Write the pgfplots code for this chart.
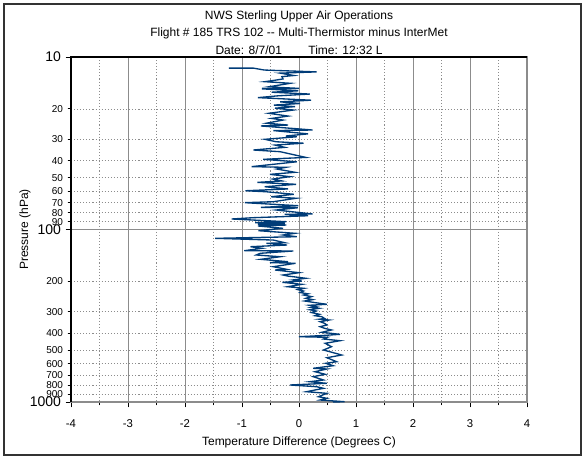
\documentclass[border=0pt]{standalone}
\usepackage{pgfplots}
\pgfplotsset{compat=1.18}
\usepackage{fontspec}
\setmainfont{Liberation Sans}
\definecolor{trace}{RGB}{0,60,120}
\definecolor{gridgray}{RGB}{140,140,140}

\begin{document}
\begin{tikzpicture}
\begin{axis}[
 scale only axis, width=342pt, height=258.75pt,
 ymode=log, y dir=reverse, ymin=10, ymax=1000,
 xmin=-4, xmax=4, clip=false,
 xtick={-4,...,4}, minor x tick num=1,
 ytick={10,100,1000}, yticklabels={10,100,1000},
 extra y ticks={20,30,40,50,60,70,80,90,200,300,400,500,600,700,800,900},
 extra y tick labels={20,30,40,50,60,70,80,90,200,300,400,500,600,700,800,900},
 extra y tick style={grid=major,
   major grid style={gridgray, dash pattern=on 0.8pt off 1.5pt, line width=0.6pt},
   major tick length=2.5pt,
   yticklabel style={font=\fontsize{7.5}{8}\selectfont}},
 tick align=outside, xtick pos=bottom, ytick pos=left,
 major tick length=4pt, minor tick length=2.5pt,
 tick style={black, line width=0.7pt},
 xmajorgrids, xminorgrids, ymajorgrids,
 major grid style={gridgray, line width=0.7pt},
 minor grid style={gridgray, dash pattern=on 0.8pt off 1.5pt, line width=0.6pt},
 axis line style={gridgray, line width=1.2pt},
 /pgf/number format/assume math mode=true,
 xticklabel style={font=\fontsize{8.5}{9}\selectfont, yshift=-6pt},
 yticklabel style={font=\fontsize{10.5}{11}\selectfont},
 xlabel={Temperature Difference (Degrees C)},
 ylabel={Pressure (hPa)},
 xlabel style={at={(axis description cs:0.5,-0.118)}, anchor=center, font=\fontsize{9}{10}\selectfont},
 ylabel style={at={(axis description cs:-0.101,0.5)}, anchor=center, font=\fontsize{9}{10}\selectfont},
 title={NWS Sterling Upper Air Operations\\Flight \# 185 TRS 102 -{}- Multi-Thermistor minus InterMet\\Date: 8/7/01\hspace{2.2em}Time: 12:32 L},
 title style={align=center, font=\fontsize{9}{13}\selectfont, yshift=-7.5pt},
]
\addplot[trace, line width=1pt] coordinates {
(-1.23,11.6) (-0.80,11.6) (-0.61,11.9) (0.31,12.2) (-0.33,12.4) (-0.09,12.8)
(-0.30,13.0) (-0.28,13.4) (-0.40,13.6) (-0.60,13.9) (-0.15,14.2) (-0.54,14.9)
(0.00,15.2) (-0.65,15.3) (-0.01,15.7) (-0.48,16.0) (0.19,16.4) (-0.38,16.8)
(-0.72,17.2) (0.21,17.8) (-0.33,18.2) (0.02,18.6) (-0.44,19.0) (-0.07,19.4)
(-0.42,19.8) (-0.10,20.3) (-0.53,21.2) (-0.19,22.0) (-0.48,22.7) (-0.28,23.2)
(-0.57,24.2) (-0.19,24.8) (-0.67,25.1) (0.24,26.5) (-0.45,26.7) (0.16,27.9)
(-0.23,28.7) (-0.04,29.0) (-0.60,30.0) (-0.40,31.0) (0.08,31.6) (-0.42,32.4)
(-0.25,33.4) (-0.80,34.6) (-0.33,35.4) (-0.07,37.0) (0.12,38.2) (-0.63,39.2)
(-0.04,40.5) (-0.28,41.3) (-0.83,43.2) (-0.23,43.6) (-0.39,44.6) (-0.07,46.6)
(-0.51,47.9) (-0.16,49.4) (-0.46,51.0) (-0.30,52.3) (-0.73,53.3) (-0.05,54.7)
(-0.60,56.5) (-0.19,58.2) (-0.94,59.6) (-0.58,60.4) (-0.09,62.5) (-0.49,64.6)
(-0.05,65.9) (-0.45,69.0) (-0.95,69.9) (-0.01,72.8) (-0.67,74.4) (-0.02,74.8)
(-0.40,77.1) (0.24,81.3) (-0.25,81.6) (0.16,83.2) (-0.80,85.4) (-1.18,86.9)
(-0.22,90.1) (-0.77,91.3) (-0.25,92.2) (-0.72,93.3) (-0.22,94.2) (-0.72,95.4)
(-0.28,98.4) (-0.71,101.6) (-0.07,105.2) (-0.28,107.6) (-0.04,110.1) (-1.47,112.5)
(-0.45,115.1) (-0.25,119.3) (-0.57,120.2) (-0.21,123.0) (-0.85,125.8) (-0.65,128.5)
(-0.96,132.7) (-0.10,133.2) (-0.68,137.4) (-0.75,140.5) (-0.33,143.8) (-0.67,148.9)
(-0.19,153.7) (-0.51,155.5) (-0.06,157.0) (-0.45,164.3) (-0.22,170.1) (-0.42,171.7)
(0.00,178.0) (-0.28,183.6) (-0.20,186.1) (0.12,191.8) (-0.10,196.0) (0.05,199.0)
(-0.29,202.4) (0.05,207.9) (-0.20,214.6) (0.09,219.3) (-0.02,223.0) (0.08,227.3)
(0.02,232.0) (0.16,236.0) (0.08,239.8) (0.22,245.0) (0.12,250.5) (0.24,255.0)
(0.10,259.7) (0.27,265.0) (0.49,271.4) (0.18,275.0) (0.30,280.2) (0.22,283.0)
(0.35,286.3) (0.19,292.0) (0.30,296.8) (0.22,303.0) (0.36,310.2) (0.28,316.0)
(0.40,320.3) (0.45,328.0) (0.36,331.0) (0.53,334.7) (0.37,342.4) (0.45,350.0)
(0.49,357.8) (0.37,366.0) (0.45,373.9) (0.57,382.4) (0.40,394.4) (0.72,405.1)
(0.40,412.0) (0.00,418.2) (0.50,421.6) (0.43,431.3) (0.72,441.2) (0.46,456.8)
(0.57,477.9) (0.43,499.4) (0.75,534.0) (0.49,553.6) (0.66,584.0) (0.47,596.6)
(0.60,616.0) (0.25,637.7) (0.49,643.7) (0.28,667.3) (0.46,690.9) (0.25,713.4)
(0.43,745.6) (0.19,762.7) (0.49,779.2) (-0.16,797.0) (0.31,815.3) (0.43,833.0)
(0.13,871.6) (0.49,890.5) (0.34,931.8) (0.49,952.0) (0.37,973.7) (0.80,996.0)
(0.60,1000)
};
\draw[black, line width=1.2pt] (axis cs:-4,1000) -- (axis cs:-4,10) -- (axis cs:4,10);
\end{axis}
\pgfresetboundingbox
\draw[gray!40!black, line width=0.8pt] ([shift={(-50.25pt,-39.75pt)}]current axis.south west) rectangle ([shift={(382.5pt,298.5pt)}]current axis.south west);
\useasboundingbox ([shift={(-53.25pt,-42pt)}]current axis.south west) rectangle ([shift={(385.5pt,301.5pt)}]current axis.south west);
\end{tikzpicture}
\end{document}
